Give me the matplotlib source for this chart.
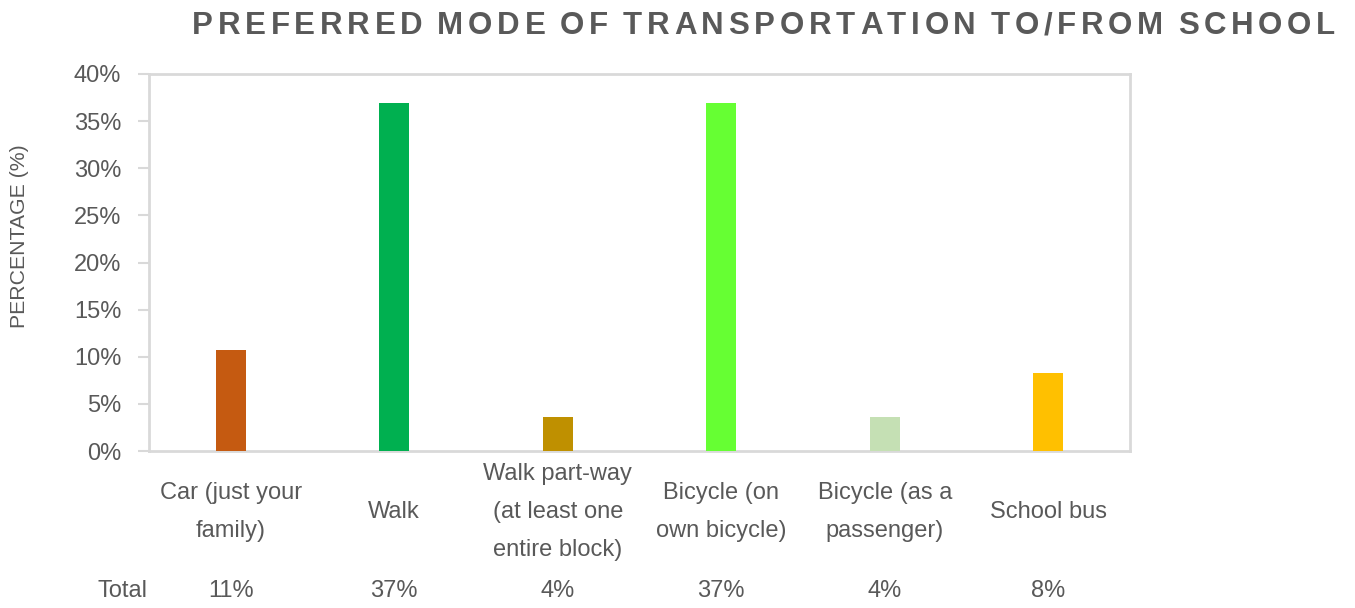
import matplotlib.pyplot as plt
import numpy as np

# chart data
categories = ["Car (just your\nfamily)", "Walk", "Walk part-way\n(at least one\nentire block)",
              "Bicycle (on\nown bicycle)", "Bicycle (as a\npassenger)", "School bus"]
percent = [10.7, 36.9, 3.6, 36.9, 3.6, 8.3]
total_labels = ["11%", "37%", "4%", "37%", "4%", "8%"]
colors = ["#C55A11", "#00B050", "#BF9000", "#66FF33", "#C5E0B4", "#FFC000"]
yticks = [0, 5, 10, 15, 20, 25, 30, 35, 40]

txt = "#595959"
grid = "#D9D9D9"
plt.rcParams['font.family'] = ['Liberation Sans', 'DejaVu Sans']

fig = plt.figure(figsize=(13.55, 6.08), dpi=100)
ax = fig.add_axes([149 / 1355, 1 - 451 / 608, 981 / 1355, 377 / 608])

x = np.arange(len(categories))
ax.bar(x, percent, width=0.184, color=colors, zorder=3)

ax.set_xlim(-0.5, len(categories) - 0.5)
ax.set_ylim(0, 40)
ax.set_yticks(yticks)
ax.set_yticklabels([f"{t}%" for t in yticks], fontsize=17, color=txt)
ax.tick_params(axis='y', length=8, width=1.5, color=grid, pad=12)
ax.set_xticks([])
for s in ax.spines.values():
    s.set_color(grid)
    s.set_linewidth(2)

fig.text(20 / 1355, 1 - 236 / 608, "PERCENTAGE (%)", rotation=90, fontsize=15.3,
         color=txt, ha='center', va='center')

# category labels and data table row
for xi, lab, tot in zip(x, categories, total_labels):
    ax.text(xi, -6.5, lab, ha='center', va='center', fontsize=17, color=txt,
            linespacing=1.95)
    ax.text(xi, -14.85, tot, ha='center', va='center', fontsize=17, color=txt)
ax.text(-0.665, -14.85, "Total", ha='center', va='center', fontsize=17, color=txt)

# title with wide letter spacing
title = "PREFERRED MODE OF TRANSPORTATION TO/FROM SCHOOL"
fig.canvas.draw()
r = fig.canvas.get_renderer()
x0, x1, ty = 192, 1335, 608 - 23
widths = []
for ch in title:
    t = fig.text(0, 0, ch if ch != " " else "I", fontsize=22.5, fontweight='bold', color=txt)
    widths.append(t.get_window_extent(r).width * (0.6 if ch == " " else 1))
    t.remove()
gap = (x1 - x0 - sum(widths)) / (len(title) - 1)
cx = x0
for ch, w in zip(title, widths):
    if ch != " ":
        fig.text(cx / 1355, ty / 608, ch, fontsize=22.5, fontweight='bold', color=txt,
                 ha='left', va='center_baseline')
    cx += w + gap

fig.savefig("out.png", dpi=100)
